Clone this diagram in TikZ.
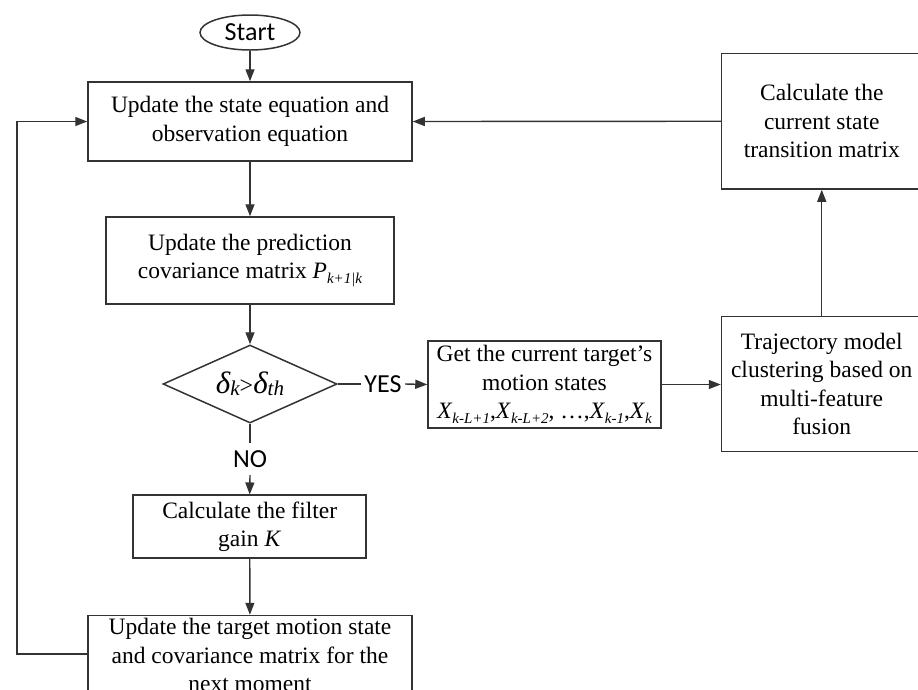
\documentclass[tikz,border=0pt]{standalone}
\usepackage{fontspec}
\setmainfont{Liberation Serif}
\newfontfamily\calfont{Carlito}
\usetikzlibrary{shapes.geometric,arrows.meta}
\newcommand\mysb[1]{\raisebox{-0.22em}{\fontsize{15}{15}\selectfont\itshape #1}}
\definecolor{ln}{HTML}{333333}
\tikzset{
  box/.style={draw=ln, line width=1.5pt, rectangle, inner sep=0pt, align=center,
    font=\fontsize{23.5}{28.5}\selectfont},
  arr/.style={draw=ln, line width=1.4pt, -{Triangle[length=12pt,width=9pt]}},
  lin/.style={draw=ln, line width=1.4pt},
  lbl/.style={font=\calfont\fontsize{26}{26}\selectfont, inner sep=0pt},
}
\begin{document}
\begin{tikzpicture}[x=1pt,y=-1pt]
\useasboundingbox (0,0) rectangle (918,689);
\clip (0,0) rectangle (918,689);

\node[draw=ln, line width=1.5pt, ellipse, minimum width=100pt, minimum height=35pt, inner sep=0pt,
  font=\calfont\fontsize{26}{26}\selectfont] (start) at (250,32.5) {Start};

\node[box, minimum width=324pt, minimum height=79pt] (b1) at (250,121.5)
  {Update the state equation and\\observation equation};

\node[box, minimum width=288pt, minimum height=87pt] (b2) at (250,260.5)
  {Update the prediction\\covariance matrix \textit{P}\mysb{k+1|k}};

\node[draw=ln, line width=1.5pt, diamond, aspect=2.23, minimum width=174pt, minimum height=78pt, inner sep=0pt] (dia) at (250,384)
  {{\fontsize{31}{31}\selectfont\itshape δ}\raisebox{-0.25em}{\fontsize{21}{21}\selectfont\itshape k}{\fontsize{24}{24}\selectfont >}{\fontsize{31}{31}\selectfont\itshape δ}\raisebox{-0.25em}{\fontsize{21}{21}\selectfont\itshape th}};

\node[box, minimum width=233pt, minimum height=87pt] (b3) at (544.5,384.5)
  {Get the current target’s\\motion states\\\textit{X}\mysb{k-L+1},\textit{X}\mysb{k-L+2}, …,\textit{X}\mysb{k-1},\textit{X}\mysb{k}};

\node[box, minimum width=200.5pt, minimum height=135pt] (b4) at (821.75,384)
  {Trajectory model\\clustering based on\\multi-feature\\fusion};

\node[box, minimum width=200.5pt, minimum height=135.5pt] (b5) at (821.75,121.25)
  {Calculate the\\current state\\transition matrix};

\node[box, minimum width=233pt, minimum height=63pt] (b6) at (249.7,526.7)
  {Calculate the filter\\gain \textit{K}};

\node[box, minimum width=324pt, minimum height=79pt] (b7) at (250,655)
  {Update the target motion state\\and covariance matrix for the\\next moment};

\node[lbl, minimum height=32pt] (no) at (250,459) {NO};
\node[lbl, minimum width=44pt] (yes) at (383,384) {YES};

\coordinate (fl) at (17,654);
\coordinate (fu) at (17,121.5);

\draw[arr] (start) -- (b1);
\draw[arr] (b1) -- (b2);
\draw[arr] (b2) -- (dia);
\draw[lin] (dia.east) -- (yes.west);
\draw[arr] (yes.east) -- (b3.west);
\draw[arr] (b3.east) -- (b4.west |- b3.east);
\draw[arr] (b4.north) -- (b5.south);
\draw[arr] (b5.west) -- (b1.east);
\draw[lin] (dia.south) -- (no.north);
\draw[arr] (no.south) -- (b6.north);
\draw[arr] (b6) -- (b7);
\draw[arr] (b7.west |- fl) -- (fl) -- (fu) -- (b1.west);
\end{tikzpicture}
\end{document}
